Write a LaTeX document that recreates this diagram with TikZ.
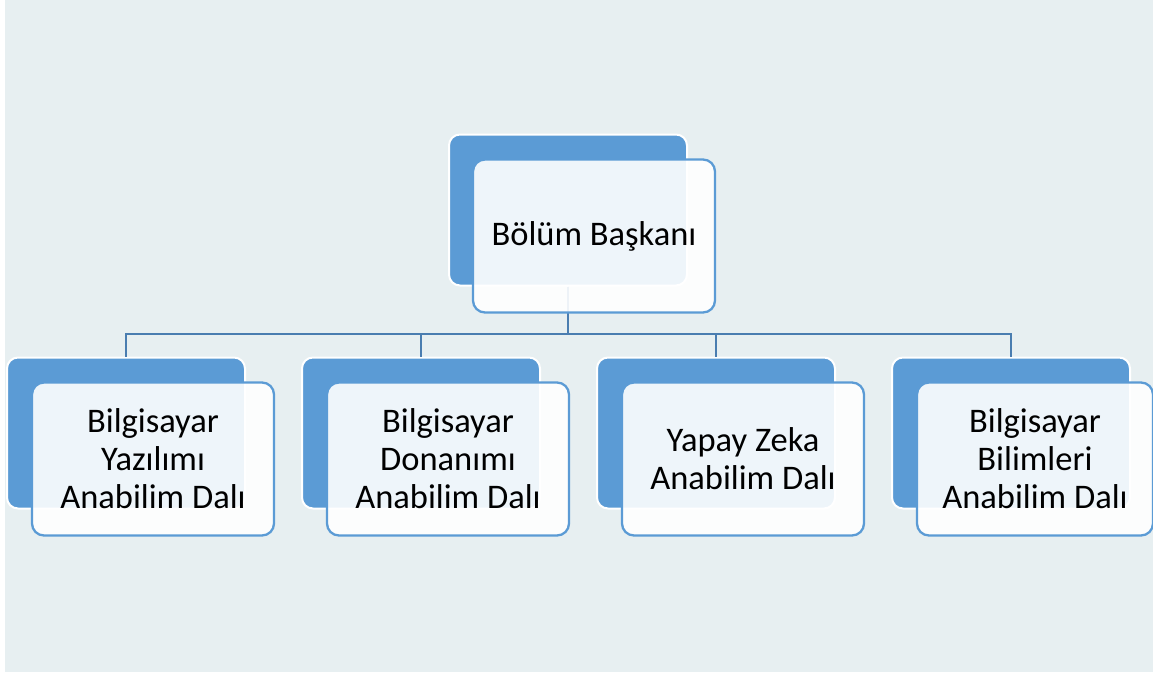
\documentclass[tikz,border=0pt]{standalone}
\usepackage{fontspec}
\setmainfont{Carlito}
\usetikzlibrary{positioning}
\definecolor{bgcol}{HTML}{E7EFF1}
\definecolor{boxblue}{HTML}{5B9BD5}
\definecolor{linkblue}{HTML}{4A7DB0}

\begin{document}
\begin{tikzpicture}[x=1pt,y=-1pt,node distance=55pt,
	back/.style={draw=white,line width=2pt,fill=boxblue,rounded corners=11pt,minimum width=238pt,minimum height=151pt},
	front/.style={draw=boxblue,line width=2.3pt,fill=white,fill opacity=0.9,text opacity=1,rounded corners=12pt,
		minimum width=242pt,minimum height=153pt,align=center,font=\fontsize{34.5}{38}\selectfont},
	link/.style={draw=linkblue,line width=2.7pt}]
	\useasboundingbox (0,0) rectangle (1153,677);
	\fill[bgcol] (5,0) rectangle (1153,672);
	% back shapes
	\node[back] (b0) at (568,210) {};
	\node[back] (b1) at (126,433) {};
	\node[back] [right=of b1] (b2) {};
	\node[back] [right=of b2] (b3) {};
	\node[back] [right=of b3] (b4) {};
	% connectors
	\coordinate (bar) at (568,334);
	\foreach \c in {b1,b2,b3,b4}
		\draw[link] (b0.south) |- (bar) -| (\c.north);
	% front shapes
	\node[front] (f0) at (b0) [xshift=26pt,yshift=-26pt] {Bölüm Başkanı};
	\node[front] (f1) at (b1) [xshift=27pt,yshift=-26pt] {Bilgisayar\\Yazılımı\\Anabilim Dalı};
	\node[front] (f2) at (b2) [xshift=27pt,yshift=-26pt] {Bilgisayar\\Donanımı\\Anabilim Dalı};
	\node[front] (f3) at (b3) [xshift=27pt,yshift=-26pt] {Yapay Zeka\\Anabilim Dalı};
	\node[front,minimum width=236pt] (f4) at (b4) [xshift=24pt,yshift=-26pt] {Bilgisayar\\Bilimleri\\Anabilim Dalı};
\end{tikzpicture}
\end{document}
